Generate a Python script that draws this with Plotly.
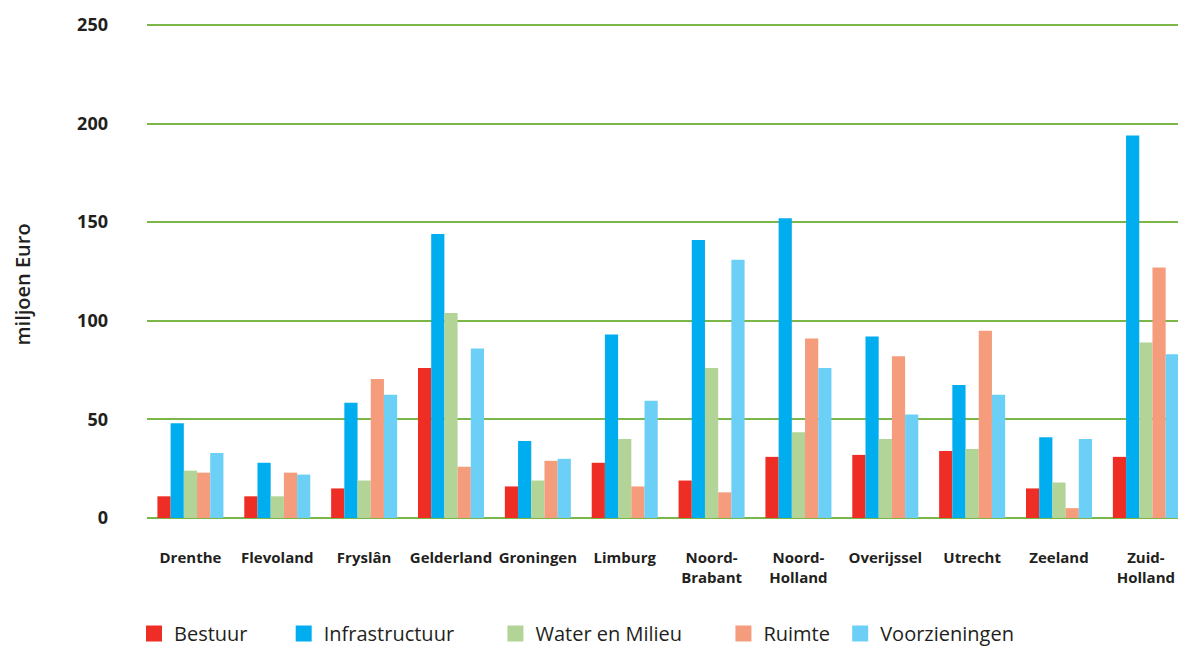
import plotly.graph_objects as go

provinces = ["Drenthe", "Flevoland", "Fryslân", "Gelderland", "Groningen", "Limburg",
             "Noord-<br>Brabant", "Noord-<br>Holland", "Overijssel", "Utrecht", "Zeeland", "Zuid-<br>Holland"]

bestuur = [11, 11, 15, 76, 16, 28, 19, 31, 32, 34, 15, 31]
infrastructuur = [48, 28, 58.5, 144, 39, 93, 141, 152, 92, 67.5, 41, 194]
water_en_milieu = [24, 11, 19, 104, 19, 40, 76, 43.5, 40, 35, 18, 89]
ruimte = [23, 23, 70.5, 26, 29, 16, 13, 91, 82, 95, 5, 127]
voorzieningen = [33, 22, 62.5, 86, 30, 59.5, 131, 76, 52.5, 62.5, 40, 83]

NB = "\u00a0"
series = [
    ("Bestuur", bestuur, "#EE2E24", 6),
    ("Infrastructuur", infrastructuur, "#00AEEF", 7),
    ("Water en Milieu", water_en_milieu, "#B2D497", 7),
    ("Ruimte", ruimte, "#F59C7D", 1),
    ("Voorzieningen", voorzieningen, "#6CCFF6", 0),
]

fig = go.Figure()
for name, vals, col, pad in series:
    fig.add_trace(go.Bar(x=provinces, y=vals, name=name, marker=dict(color=col, line=dict(width=0)),
                         showlegend=False))
for name, vals, col, pad in series:
    fig.add_trace(go.Scatter(x=[None], y=[None], mode="markers", name=name + NB * pad,
                             marker=dict(symbol="square", size=16, color=col)))

fig.update_layout(
    width=1178, height=646,
    margin=dict(l=147, r=0, t=21, b=128),
    plot_bgcolor="white", paper_bgcolor="white",
    barmode="group", bargap=0.24, bargroupgap=0,
    font=dict(family="Open Sans", color="#231F20"),
    legend=dict(orientation="h", xref="container", yref="container", x=134/1178, y=1 - 614/646,
                xanchor="left", yanchor="top", font=dict(size=20, family="Open Sans", color="#231F20"),
                itemwidth=30, traceorder="normal"),
    xaxis=dict(range=[-0.5, 11.37], showgrid=False, showline=False, ticks="",
               tickfont=dict(size=15, family="Open Sans", color="#231F20", weight="bold"),
               ticklabelstandoff=29),
    yaxis=dict(range=[0, 252], tickvals=[0, 50, 100, 150, 200, 250], showgrid=True,
               gridcolor="#7AB648", gridwidth=2, zeroline=True, zerolinecolor="#7AB648", zerolinewidth=2,
               tickfont=dict(size=18, family="Open Sans", color="#231F20", weight="bold"),
               ticklabelstandoff=38),
    annotations=[dict(text="miljoen Euro", xref="paper", yref="paper", x=0, y=(646 - 285 - 128) / 497,
                      xshift=-140, textangle=-90, showarrow=False,
                      font=dict(size=20, family="Open Sans", color="#231F20", weight=600))],
)
fig.write_html("out.html")
